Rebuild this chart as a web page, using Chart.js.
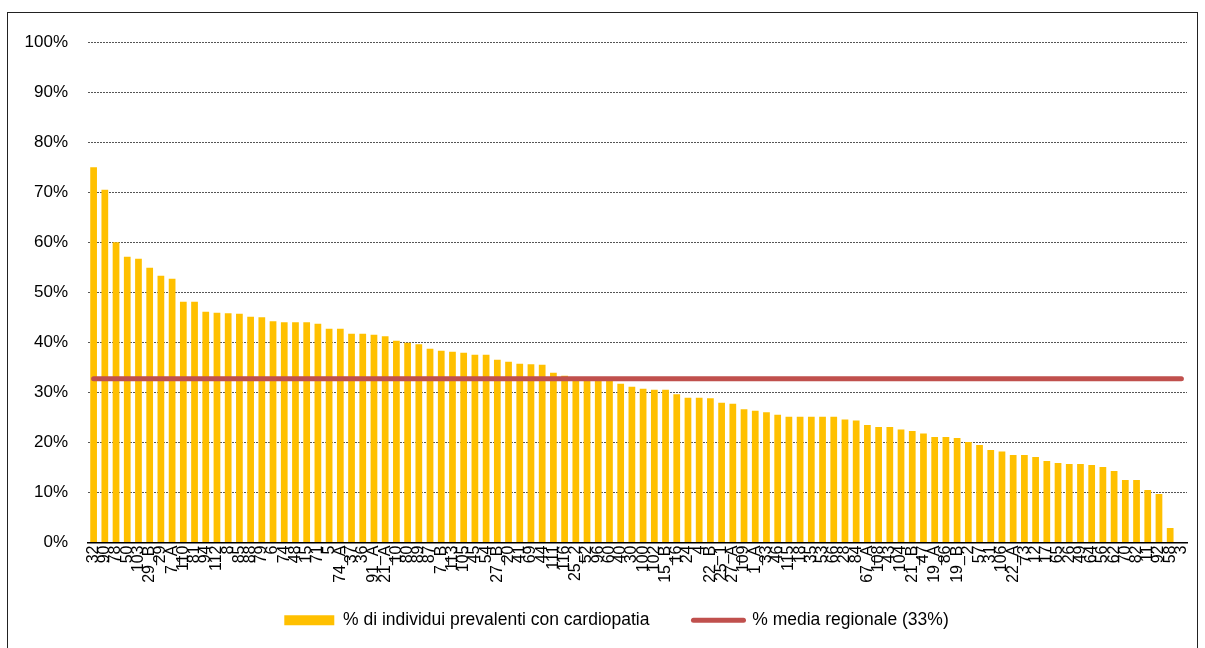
<!DOCTYPE html>
<html>
<head>
<meta charset="utf-8">
<script src="https://cdn.jsdelivr.net/npm/chart.js@4/dist/chart.umd.min.js"></script>
<style>
  html, body { margin: 0; padding: 0; background: #fff; }
  #wrap { position: relative; width: 1205px; height: 648px; overflow: hidden; }
  #frame { position: absolute; left: 7px; top: 12px; width: 1191px; height: 660px; border: 1px solid #222; box-sizing: border-box; }
  #cardioChart { position: absolute; left: 0; top: 0; }
</style>
</head>
<body>
<div id="wrap">
  <div id="frame"></div>
  <canvas id="cardioChart" width="1205" height="648"></canvas>
</div>
<script>
const distretti = [
  "32", "90", "78", "50", "103", "29_B", "29", "7_A", "110", "81",
  "94", "112", "8", "85", "88", "79", "6", "74", "48", "15",
  "71", "5", "74_A", "37", "36", "91_A", "21_A", "10", "80", "89",
  "87", "7_B", "113", "105", "45", "54", "27_B", "20", "41", "69",
  "44", "111", "116", "25_2", "52", "96", "60", "40", "30", "100",
  "102", "15_B", "16", "24", "4", "22_B", "25_1", "27_A", "109", "1_A",
  "33", "46", "115", "18", "35", "53", "66", "28", "84", "67_A",
  "108", "43", "104", "21_B", "47", "19_A", "86", "19_B", "2", "57",
  "31", "106", "22_A", "73", "12", "17", "65", "26", "49", "64",
  "56", "62", "70", "82", "11", "92", "58", "3"
];

// % di individui prevalenti con cardiopatia
const prevalenti = [
  75.0, 70.5, 60.0, 57.1, 56.7, 54.9, 53.3, 52.7, 48.1, 48.1,
  46.1, 45.9, 45.8, 45.7, 45.1, 45.0, 44.2, 44.0, 44.0, 44.0,
  43.7, 42.7, 42.7, 41.7, 41.7, 41.5, 41.2, 40.3, 39.9, 39.6,
  38.7, 38.3, 38.1, 37.9, 37.5, 37.5, 36.5, 36.1, 35.7, 35.6,
  35.5, 33.9, 33.3, 33.0, 32.8, 32.6, 32.4, 31.7, 31.1, 30.7,
  30.5, 30.5, 29.6, 28.9, 28.9, 28.8, 27.9, 27.7, 26.6, 26.3,
  26.0, 25.5, 25.1, 25.1, 25.1, 25.1, 25.1, 24.6, 24.4, 23.5,
  23.1, 23.1, 22.6, 22.3, 21.8, 21.1, 21.1, 20.9, 20.1, 19.5,
  18.5, 18.2, 17.5, 17.5, 17.1, 16.3, 15.9, 15.7, 15.7, 15.5,
  15.1, 14.3, 12.5, 12.5, 10.5, 9.7, 2.9, 0
];

const mediaRegionale = 32.7;
const yTicks = [0, 10, 20, 30, 40, 50, 60, 70, 80, 90, 100];

const FONT = "'Liberation Sans', Arial, sans-serif";
const LEGEND_GAP = 44;

// legend items are spaced wide apart: keep the legend box short and nudge it
const legendNudge = {
  id: "legendNudge",
  afterLayout(chart) {
    const lg = chart.legend;
    lg.top -= LEGEND_GAP - 10;
    lg.left += 46;
  }
};

function renderChart() {
  const ctx = document.getElementById("cardioChart").getContext("2d");
  new Chart(ctx, {
    type: "bar",
    data: {
      labels: distretti,
      datasets: [{
        label: "% di individui prevalenti con cardiopatia",
        data: prevalenti,
        backgroundColor: "#FFC000",
        barPercentage: 0.6,
        categoryPercentage: 1.0,
        order: 2
      }, {
        type: "line",
        label: "% media regionale (33%)",
        data: distretti.map(() => mediaRegionale),
        borderColor: "#C0504D",
        backgroundColor: "#C0504D",
        borderWidth: 5,
        borderCapStyle: "round",
        pointRadius: 0,
        fill: false,
        order: 1
      }]
    },
    plugins: [legendNudge],
    options: {
      responsive: false,
      animation: false,
      layout: { padding: { left: 0, right: 18, top: 42, bottom: 9 } },
      plugins: {
        tooltip: { enabled: false },
        legend: {
          position: "bottom",
          maxHeight: 37.5,
          labels: {
            color: "#000",
            font: { family: FONT, size: 17.5 },
            usePointStyle: true,
            pointStyleWidth: 50,
            boxHeight: 10,
            padding: LEGEND_GAP,
            generateLabels: chart => chart.data.datasets.map((ds, i) => ({
              text: ds.label,
              datasetIndex: i,
              fillStyle: ds.backgroundColor,
              strokeStyle: ds.borderColor || ds.backgroundColor,
              lineWidth: i === 0 ? 0 : 5,
              lineCap: "round",
              pointStyle: i === 0 ? "rect" : "line",
              fontColor: "#000"
            }))
          }
        }
      },
      scales: {
        x: {
          grid: { display: false, drawTicks: false },
          border: { display: true, color: "#000", width: 1.5 },
          ticks: {
            autoSkip: false,
            minRotation: 90,
            maxRotation: 90,
            padding: 3,
            color: "#000",
            font: { family: FONT, size: 16 }
          },
          afterFit: s => { s.height = 59; }
        },
        y: {
          min: 0,
          max: 100,
          afterBuildTicks: s => { s.ticks = yTicks.map(v => ({ value: v })); },
          grid: {
            drawTicks: false,
            color: c => c.tick.value === 0 ? "transparent" : "#555",
            borderDash: [2, 1]
          },
          border: { display: false, dash: [2, 1] },
          ticks: {
            padding: 20,
            color: "#000",
            font: { family: FONT, size: 17 },
            callback: v => v + "%"
          },
          afterFit: s => { s.width = 88; }
        }
      }
    }
  });
}

renderChart();
</script>
</body>
</html>
